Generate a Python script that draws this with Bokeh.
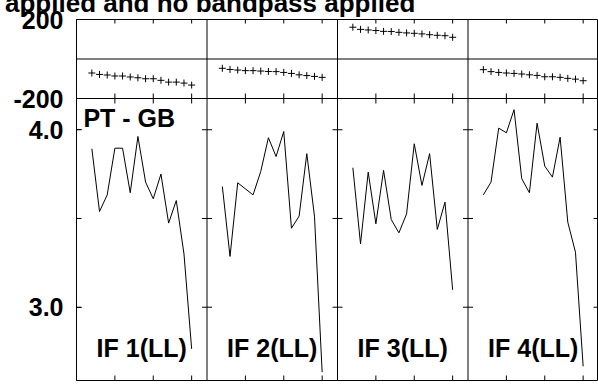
import numpy as np
from bokeh.plotting import figure
from bokeh.layouts import column
from bokeh.models import Range1d, LinearAxis, FixedTicker, Span, Div
from bokeh.core.properties import value
from bokeh.embed import file_html
from bokeh.resources import INLINE

# ---------------- data ----------------
title_text = "applied and no bandpass applied"
baseline_label = "PT - GB"
if_labels = ["IF 1(LL)", "IF 2(LL)", "IF 3(LL)", "IF 4(LL)"]
channels = [2, 3, 4, 5, 6, 7, 8, 9, 10, 11, 12, 13, 14, 15]
channel_ticks = [5, 10, 15]
amp_ticks = [3.0, 3.5, 4.0]
amp_labeled_ticks = [3.0, 4.0]
amp_tick_labels = ["3.0", "4.0"]
phase_ticks = [-200, 200]
phase_tick_labels = ["-200", "200"]

phase_if1 = [-71, -78, -81, -86, -86, -91, -95, -100, -100, -108, -117, -117, -122, -132]
phase_if2 = [-47, -53, -56, -59, -59, -61, -63, -64, -68, -73, -80, -84, -88, -93]
phase_if3 = [161, 150, 147, 144, 140, 139, 135, 132, 130, 127, 123, 120, 118, 110]
phase_if4 = [-54, -64, -68, -71, -73, -76, -80, -83, -90, -90, -93, -98, -102, -110]

amp_if1 = [3.893, 3.539, 3.633, 3.896, 3.896, 3.645, 3.962, 3.705, 3.611, 3.750, 3.474, 3.601, 3.300, 2.765]
amp_if2 = [3.680, 3.286, 3.701, 3.667, 3.633, 3.765, 3.955, 3.849, 3.990, 3.445, 3.513, 3.865, 3.513, 2.634]
amp_if3 = [3.786, 3.357, 3.761, 3.470, 3.771, 3.494, 3.419, 3.526, 3.921, 3.686, 3.865, 3.438, 3.592, 3.098]
amp_if4 = [3.633, 3.705, 4.009, 3.983, 4.113, 3.724, 3.645, 4.037, 3.795, 3.733, 3.958, 3.479, 3.310, 2.667]

phases = [phase_if1, phase_if2, phase_if3, phase_if4]
amps = [amp_if1, amp_if2, amp_if3, amp_if4]

# ---------------- layout constants ----------------
PANEL_W = 17            # channel units per panel
N_PANELS = 4
AMP_LO, AMP_HI = 2.587, 4.176
PH_LO, PH_HI = -200.0, 200.0
PH_PX, AMP_PX = 79, 282  # pixel heights of the two rows

amp_per_px = (AMP_HI - AMP_LO) / AMP_PX
Y_END = AMP_HI + PH_PX * amp_per_px
ph_per_px = (PH_HI - PH_LO) / PH_PX
PH_START = PH_LO - AMP_PX * ph_per_px


def ph2amp(v):
    return AMP_HI + (v - PH_LO) * (Y_END - AMP_HI) / (PH_HI - PH_LO)


FONT_NAME = "Liberation Sans"
FONT = value(FONT_NAME)
X_END = PANEL_W * N_PANELS

p = figure(width=598, height=384, output_backend="svg", toolbar_location=None,
           x_range=Range1d(0, X_END), y_range=Range1d(AMP_LO, Y_END),
           min_border_left=76, min_border_right=0, min_border_top=19, min_border_bottom=4,
           x_axis_type=None, y_axis_type=None)
p.extra_y_ranges = {"phase": Range1d(PH_START, PH_HI)}
p.xgrid.visible = False
p.ygrid.visible = False
p.outline_line_color = "black"
p.outline_line_width = 1
p.background_fill_color = "white"
p.border_fill_color = "white"

# x tick positions in every panel
xt = [c + PANEL_W * i for i in range(N_PANELS) for c in channel_ticks]

# left axis: labelled amplitude ticks plus phase ticks mapped into the same scale
left_ticks = list(amp_labeled_ticks) + [ph2amp(t) for t in phase_ticks]
overrides = {}
for t, lab in zip(amp_labeled_ticks, amp_tick_labels):
    overrides[t] = lab
for t, lab in zip(phase_ticks, phase_tick_labels):
    overrides[ph2amp(t)] = lab

left = LinearAxis(ticker=FixedTicker(ticks=left_ticks), major_label_overrides=overrides,
                  major_tick_in=5, major_tick_out=0, minor_tick_line_color=None,
                  major_label_standoff=13, major_label_text_font=FONT_NAME,
                  major_label_text_font_style="bold", major_label_text_font_size="25px",
                  major_label_text_color="black", axis_line_color="black")
p.add_layout(left, "left")

# row divider and phase zero line
p.add_layout(Span(location=AMP_HI, dimension="width", line_color="black", line_width=1))
p.add_layout(Span(location=ph2amp(0), dimension="width", line_color="black", line_width=1))
# column dividers
for i in range(1, N_PANELS):
    p.add_layout(Span(location=PANEL_W * i, dimension="height", line_color="black", line_width=1))

# amplitude ticks on every panel edge (inward / crossing the dividers)
dx = [PANEL_W * i for i in range(N_PANELS + 1) for _ in amp_ticks]
dy = [t for i in range(N_PANELS + 1) for t in amp_ticks]
p.scatter(x=dx, y=dy, marker="dash", size=10, line_color="black", line_width=1)
# channel ticks: bottom edge, row divider, top edge
p.scatter(x=xt, y=[AMP_LO] * len(xt), marker="dash", angle=np.pi / 2, size=10,
          line_color="black", line_width=1)
p.scatter(x=xt, y=[AMP_HI] * len(xt), marker="dash", angle=np.pi / 2, size=10,
          line_color="black", line_width=1)
p.scatter(x=xt, y=[Y_END] * len(xt), marker="dash", angle=np.pi / 2, size=8,
          line_color="black", line_width=1)

# data
for i in range(N_PANELS):
    xs = [c + PANEL_W * i for c in channels]
    p.line(x=xs, y=amps[i], line_color="black", line_width=1)
    p.scatter(x=xs, y=phases[i], y_range_name="phase", marker="cross", size=7,
              line_color="black", line_width=1)

# panel labels
p.text(x=[PANEL_W / 2 + PANEL_W * i for i in range(N_PANELS)], y=[2.772] * N_PANELS,
       text=if_labels, text_font=FONT, text_font_style="bold", text_font_size="25px",
       text_align="center", text_baseline="alphabetic", text_color="black")
p.text(x=[0.9], y=[4.064], text=[baseline_label], text_font=FONT, text_font_style="bold",
       text_font_size="25px", text_align="left", text_baseline="alphabetic", text_color="black")

# title (its upper part runs off the top of the page, as in the original)
title_html = ('<div style="position:absolute; left:5px; top:-10px; white-space:nowrap; '
              'font-family:\'Liberation Sans\'; font-weight:bold; font-size:26px; '
              'line-height:26px; color:black;">' + title_text + '</div>')
title_div = Div(text=title_html, width=598, height=0, margin=0,
                styles={"overflow": "visible", "position": "relative", "z-index": "10"})

layout = column(title_div, p, spacing=0)

open("out.html", "w").write(file_html(layout, INLINE))
